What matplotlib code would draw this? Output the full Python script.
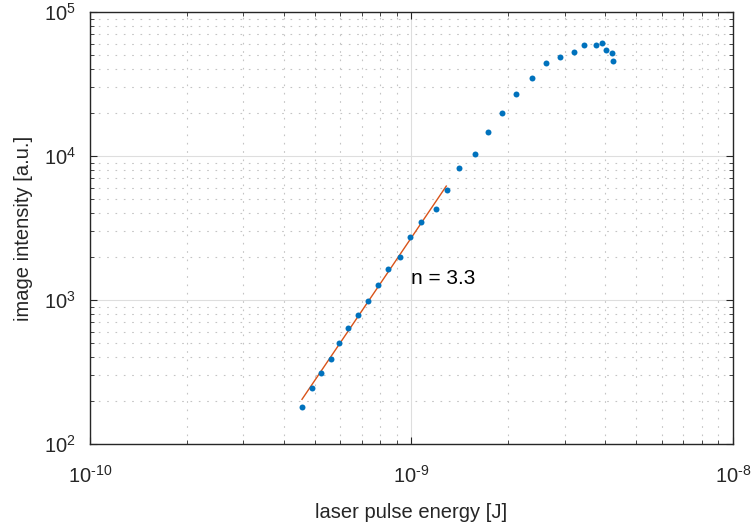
import numpy as np
import matplotlib
matplotlib.use("Agg")
import matplotlib.pyplot as plt
from matplotlib.ticker import FuncFormatter

plt.rcParams['font.family'] = ['Liberation Sans', 'DejaVu Sans']
plt.rcParams['mathtext.fontset'] = 'custom'
plt.rcParams['mathtext.rm'] = 'Liberation Sans'
plt.rcParams['mathtext.it'] = 'Liberation Sans:italic'

# energie impuls laser [J] si intensitate imagine [u.a.]
energie = [4.56e-10, 4.90e-10, 5.24e-10, 5.61e-10, 5.96e-10, 6.33e-10, 6.80e-10,
           7.34e-10, 7.85e-10, 8.47e-10, 9.19e-10, 9.89e-10, 1.073e-9, 1.189e-9,
           1.292e-9, 1.407e-9, 1.573e-9, 1.726e-9, 1.912e-9, 2.118e-9, 2.371e-9,
           2.621e-9, 2.896e-9, 3.202e-9, 3.44e-9, 3.749e-9, 3.927e-9, 4.041e-9,
           4.195e-9, 4.243e-9]
intensitate = [182, 244, 313, 389, 505, 636, 791, 984, 1277, 1650, 1998, 2738,
               3464, 4265, 5778, 8214, 10360, 14750, 19980, 26960, 34980, 44450,
               48930, 53010, 58730, 59200, 60640, 54730, 51920, 45900]

# dreapta de fit: I = A * E^n
n_fit = 3.3
log_A = 33.134
E_fit = [4.565e-10, 1.283e-9]

culoare_puncte = '#0072BD'
culoare_fit = '#D95319'
gri = '#262626'


def eticheta_putere(val, pos):
    # exponent cu cratima simpla, ca in MATLAB
    e = int(round(np.log10(val)))
    if e < 0:
        return r'$\mathdefault{10^{\text{-}%d}}$' % (-e)
    return r'$\mathdefault{10^{%d}}$' % e


fig = plt.figure(figsize=(7.53, 5.27), dpi=100)
ax = fig.add_axes([0.1195, 0.1575, 0.8539, 0.8197])

E_fit = np.array(E_fit)
I_fit = 10 ** (log_A + n_fit * np.log10(E_fit))
ax.plot(E_fit, I_fit, color=culoare_fit, linewidth=1.0, zorder=2)
ax.plot(energie, intensitate, 'o', color=culoare_puncte, markersize=4.3,
        markeredgewidth=0, zorder=3)

ax.set_xscale('log')
ax.set_yscale('log')
ax.set_xlim(1e-10, 1e-8)
ax.set_ylim(1e2, 1e5)
ax.xaxis.set_major_formatter(FuncFormatter(eticheta_putere))
ax.yaxis.set_major_formatter(FuncFormatter(eticheta_putere))

ax.grid(True, which='major', color='#dedede', linewidth=0.8, linestyle='-')
ax.grid(True, which='minor', color='#c4c4c4', linewidth=0.8, linestyle=(0, (1.5, 6)))
ax.set_axisbelow(True)

ax.tick_params(which='both', direction='in', top=True, right=True,
               colors=gri, labelsize=14.5, labelcolor=gri)
ax.tick_params(which='major', length=5, width=0.8)
ax.tick_params(axis='x', which='major', pad=15)
ax.tick_params(axis='y', which='major', pad=10)
ax.tick_params(which='minor', length=3, width=0.6)
for s in ax.spines.values():
    s.set_color(gri)
    s.set_linewidth(1.0)

ax.set_xlabel('laser pulse energy [J]', fontsize=14.5, color=gri, labelpad=12)
ax.set_ylabel('image intensity [a.u.]', fontsize=14.5, color=gri, labelpad=8)

ax.text(1.0e-9, 1420, 'n = 3.3', fontsize=15, color='black', ha='left', va='center')

fig.savefig('out.png', dpi=100)
